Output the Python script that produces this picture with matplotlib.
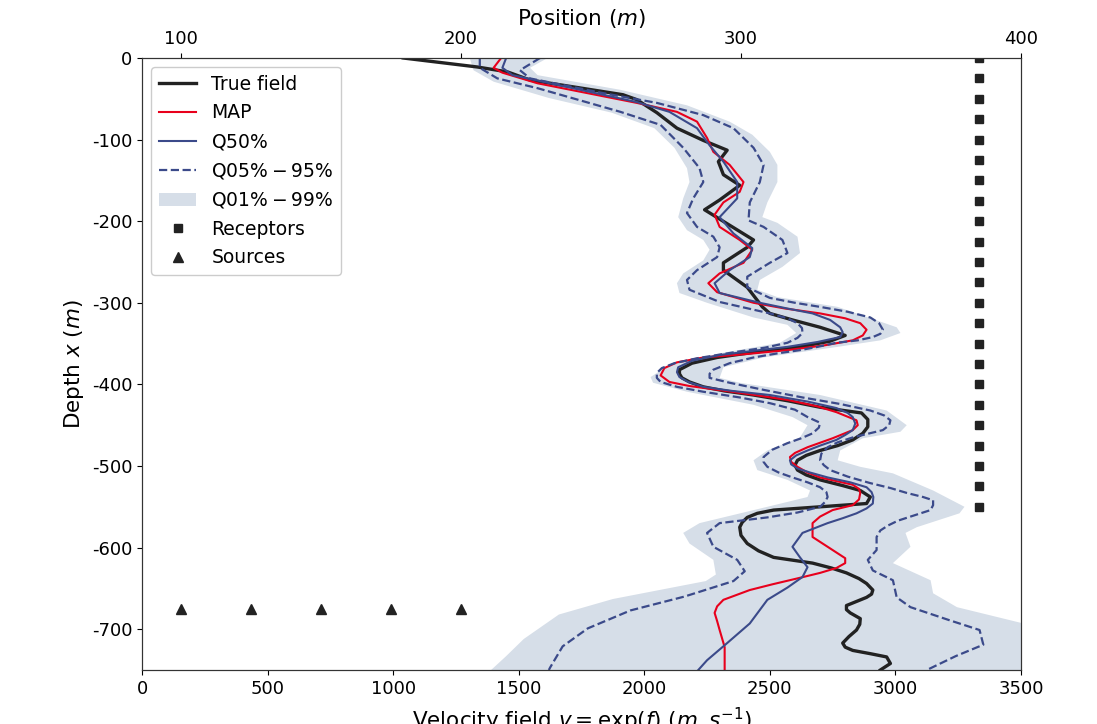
import numpy as np
import matplotlib
matplotlib.use('Agg')
import matplotlib.pyplot as plt

plt.rcParams['axes.unicode_minus'] = False

# (depth m, velocity m/s) pairs
true_field = [(0, 1040), (-11, 1335), (-17, 1455), (-27, 1545), (-45, 1915), (-51, 1970), (-67, 2050), (-86, 2130),
              (-101, 2235), (-113, 2330), (-127, 2295), (-143, 2315), (-156, 2380), (-174, 2300), (-186, 2240),
              (-223, 2435), (-232, 2410), (-251, 2315), (-260, 2315), (-281, 2410), (-297, 2450), (-305, 2470),
              (-313, 2500), (-321, 2590), (-330, 2700), (-340, 2800), (-347, 2740), (-354, 2620), (-360, 2450),
              (-367, 2290), (-374, 2190), (-382, 2140), (-387, 2140), (-392, 2150), (-397, 2180), (-403, 2235),
              (-408, 2320), (-413, 2435), (-420, 2570), (-428, 2700), (-435, 2865), (-443, 2890), (-452, 2890),
              (-460, 2870), (-468, 2830), (-475, 2770), (-481, 2700), (-487, 2645), (-493, 2610), (-499, 2600),
              (-505, 2610), (-511, 2645), (-517, 2700), (-524, 2790), (-530, 2860), (-538, 2900), (-546, 2885),
              (-554, 2515), (-558, 2450), (-563, 2410), (-569, 2390), (-575, 2380), (-585, 2385), (-595, 2410),
              (-604, 2455), (-612, 2515), (-619, 2670), (-625, 2745), (-631, 2805), (-638, 2855), (-644, 2885),
              (-652, 2910), (-657, 2905), (-661, 2885), (-666, 2845), (-671, 2805), (-676, 2805), (-680, 2820),
              (-687, 2860), (-694, 2858), (-701, 2845), (-709, 2815), (-717, 2790), (-722, 2800), (-726, 2830),
              (-730, 2900), (-734, 2965), (-742, 2980), (-750, 2940)]

map_field = [(0, 1430), (-12, 1400), (-18, 1435), (-31, 1575), (-55, 1970), (-66, 2130), (-78, 2210), (-98, 2250),
             (-115, 2275), (-131, 2340), (-152, 2395), (-164, 2380), (-177, 2315), (-192, 2280), (-207, 2300),
             (-223, 2380), (-235, 2430), (-251, 2395), (-264, 2300), (-276, 2255), (-287, 2290), (-300, 2435),
             (-307, 2560), (-313, 2700), (-319, 2800), (-325, 2860), (-333, 2885), (-340, 2870), (-346, 2830),
             (-352, 2720), (-358, 2570), (-363, 2400), (-367, 2235), (-373, 2130), (-380, 2080), (-389, 2065),
             (-397, 2100), (-402, 2180), (-407, 2300), (-413, 2440), (-419, 2570), (-427, 2690), (-434, 2765),
             (-444, 2845), (-450, 2850), (-456, 2830), (-466, 2750), (-477, 2650), (-484, 2600), (-489, 2580),
             (-495, 2585), (-501, 2610), (-508, 2650), (-514, 2700), (-523, 2830), (-528, 2855), (-533, 2860),
             (-541, 2855), (-548, 2830), (-554, 2750), (-562, 2700), (-570, 2670), (-587, 2670), (-597, 2720),
             (-603, 2750), (-613, 2800), (-619, 2800), (-625, 2765), (-631, 2700), (-637, 2620), (-645, 2510),
             (-652, 2420), (-664, 2315), (-672, 2290), (-680, 2280), (-690, 2290), (-701, 2300), (-722, 2320),
             (-750, 2320)]

q50 = [(0, 1450), (-12, 1435), (-21, 1475), (-54, 1970), (-66, 2100), (-86, 2210), (-107, 2260), (-127, 2315),
       (-152, 2370), (-172, 2370), (-195, 2300), (-215, 2355), (-233, 2430), (-244, 2420), (-260, 2340),
       (-276, 2280), (-288, 2300), (-300, 2460), (-307, 2570), (-313, 2670), (-321, 2740), (-330, 2780),
       (-336, 2790), (-342, 2780), (-348, 2690), (-354, 2570), (-359, 2430), (-364, 2300), (-371, 2190),
       (-379, 2135), (-385, 2130), (-391, 2140), (-397, 2175), (-403, 2235), (-408, 2350), (-413, 2500),
       (-421, 2650), (-429, 2765), (-435, 2810), (-440, 2830), (-448, 2840), (-456, 2830), (-462, 2800),
       (-468, 2765), (-475, 2700), (-481, 2650), (-487, 2605), (-493, 2580), (-498, 2585), (-503, 2610),
       (-508, 2660), (-514, 2730), (-520, 2820), (-526, 2885), (-532, 2905), (-538, 2912), (-546, 2910),
       (-552, 2885), (-558, 2845), (-564, 2790), (-570, 2730), (-582, 2630), (-599, 2590), (-612, 2620),
       (-624, 2650), (-636, 2630), (-649, 2570), (-664, 2490), (-693, 2420), (-717, 2330), (-738, 2250),
       (-750, 2215)]

q05 = [(0, 1345), (-12, 1345), (-25, 1415), (-37, 1575), (-66, 1905), (-82, 2065), (-110, 2155), (-135, 2220),
       (-152, 2235), (-172, 2195), (-190, 2170), (-207, 2210), (-219, 2275), (-232, 2300), (-244, 2290),
       (-260, 2210), (-272, 2170), (-284, 2180), (-299, 2300), (-306, 2400), (-313, 2500), (-319, 2570),
       (-325, 2610), (-331, 2628), (-337, 2630), (-343, 2610), (-349, 2570), (-355, 2480), (-360, 2370),
       (-364, 2290), (-368, 2210), (-374, 2120), (-380, 2070), (-386, 2050), (-392, 2050), (-397, 2065),
       (-403, 2130), (-409, 2235), (-416, 2380), (-423, 2500), (-431, 2600), (-440, 2650), (-447, 2700),
       (-453, 2695), (-460, 2670), (-466, 2625), (-472, 2570), (-480, 2510), (-489, 2475), (-495, 2475),
       (-501, 2490), (-508, 2535), (-514, 2590), (-520, 2650), (-526, 2700), (-532, 2725), (-538, 2730),
       (-544, 2720), (-550, 2700), (-557, 2610), (-563, 2490), (-570, 2300), (-582, 2250), (-599, 2275),
       (-615, 2370), (-629, 2400), (-641, 2355), (-660, 2160), (-677, 1945), (-699, 1775), (-721, 1675),
       (-747, 1625), (-750, 1620)]

q95 = [(0, 1585), (-15, 1505), (-25, 1545), (-43, 1835), (-55, 2050), (-70, 2235), (-86, 2355), (-110, 2435),
       (-131, 2475), (-152, 2460), (-177, 2420), (-199, 2415), (-207, 2475), (-223, 2550), (-239, 2570),
       (-251, 2500), (-268, 2410), (-281, 2410), (-294, 2500), (-300, 2600), (-305, 2700), (-311, 2810),
       (-318, 2900), (-325, 2935), (-333, 2950), (-338, 2940), (-342, 2910), (-346, 2850), (-349, 2765),
       (-354, 2690), (-358, 2620), (-362, 2530), (-367, 2435), (-374, 2340), (-382, 2275), (-387, 2260),
       (-392, 2260), (-398, 2340), (-407, 2480), (-416, 2630), (-424, 2780), (-432, 2900), (-438, 2955),
       (-444, 2980), (-450, 2975), (-456, 2950), (-465, 2830), (-471, 2770), (-477, 2730), (-485, 2705),
       (-493, 2700), (-499, 2715), (-505, 2740), (-513, 2810), (-521, 2900), (-527, 2980), (-533, 3045),
       (-538, 3110), (-542, 3150), (-548, 3150), (-554, 3140), (-560, 3080), (-567, 3010), (-573, 2970),
       (-579, 2940), (-587, 2925), (-603, 2925), (-615, 2890), (-628, 2910), (-640, 2990), (-661, 3005),
       (-673, 3060), (-689, 3215), (-701, 3335), (-719, 3350), (-733, 3240), (-750, 3125)]

q01 = [(0, 1305), (-15, 1320), (-29, 1400), (-49, 1620), (-67, 1870), (-86, 2040), (-110, 2120), (-135, 2170),
       (-152, 2180), (-172, 2155), (-195, 2135), (-211, 2170), (-223, 2235), (-235, 2260), (-248, 2235),
       (-264, 2155), (-276, 2130), (-288, 2140), (-300, 2250), (-318, 2435), (-327, 2570), (-337, 2605),
       (-349, 2540), (-362, 2300), (-376, 2100), (-391, 2025), (-398, 2035), (-409, 2170), (-425, 2435),
       (-440, 2590), (-450, 2650), (-465, 2620), (-481, 2490), (-493, 2435), (-505, 2450), (-517, 2570),
       (-530, 2660), (-538, 2650), (-550, 2490), (-570, 2220), (-582, 2155), (-595, 2180), (-615, 2275),
       (-633, 2285), (-641, 2245), (-663, 1875), (-682, 1660), (-712, 1520), (-733, 1450), (-750, 1390)]

q99 = [(0, 1615), (-12, 1545), (-21, 1575), (-39, 1905), (-58, 2170), (-78, 2340), (-94, 2430), (-115, 2500),
       (-131, 2530), (-152, 2530), (-177, 2490), (-195, 2470), (-202, 2530), (-219, 2610), (-239, 2620),
       (-256, 2550), (-272, 2460), (-284, 2450), (-293, 2530), (-305, 2770), (-330, 3005), (-337, 3020),
       (-346, 2940), (-354, 2770), (-367, 2475), (-379, 2315), (-392, 2300), (-398, 2380), (-413, 2700),
       (-432, 2965), (-450, 3045), (-458, 3020), (-466, 2870), (-481, 2780), (-493, 2770), (-501, 2860),
       (-509, 2990), (-530, 3150), (-550, 3275), (-558, 3255), (-575, 3085), (-582, 3040), (-599, 3060),
       (-619, 2990), (-640, 3140), (-656, 3150), (-673, 3245), (-693, 3510), (-713, 3660), (-750, 3740)]

# acquisition geometry (position axis on top)
src_pos = [100, 125, 150, 175, 200]
src_depth = -675
rec_pos = 385
rec_depth = np.arange(0, -551, -25)

blue = '#3b4a8a'
band = '#d6dee8'

true_field = np.array(true_field)
map_field = np.array(map_field)
q50 = np.array(q50)
q05 = np.array(q05)
q95 = np.array(q95)
q01 = np.array(q01)
q99 = np.array(q99)

fig = plt.figure(figsize=(10.97, 7.24), dpi=100)
ax = fig.add_axes([142/1097, 1 - 670/724, 879/1097, 612/724])

band_v = np.concatenate([q01[:, 1], q99[::-1, 1]])
band_d = np.concatenate([q01[:, 0], q99[::-1, 0]])
ax.fill(band_v, band_d, color=band, lw=0, label=r'Q01$\% - 99\%$')
ax.plot(true_field[:, 1], true_field[:, 0], color='#222222', lw=2.4, label='True field')
ax.plot(map_field[:, 1], map_field[:, 0], color='#e8001c', lw=1.5, label='MAP')
ax.plot(q50[:, 1], q50[:, 0], color=blue, lw=1.5, label=r'Q50$\%$')
ax.plot(q05[:, 1], q05[:, 0], color=blue, lw=1.6, ls='--', label=r'Q05$\% - 95\%$')
ax.plot(q95[:, 1], q95[:, 0], color=blue, lw=1.6, ls='--')

ax.set_xlim(0, 3500)
ax.set_ylim(-750, 0)
ax.set_yticks(np.arange(-700, 1, 100))
ax.set_xlabel(r'Velocity field $v = \exp(f)$ $(m.s^{-1})$', fontsize=15.5, labelpad=6)
ax.set_ylabel(r'Depth $x$ ($m$)', fontsize=15.5)
ax.tick_params(labelsize=13)

ax2 = ax.twiny()
ax2.plot(np.full(len(rec_depth), rec_pos), rec_depth, 's', color='#222222', ms=6, ls='none', label='Receptors')
ax2.plot(src_pos, [src_depth] * len(src_pos), '^', color='#222222', ms=6.5, ls='none', label='Sources')
ax2.set_xlim(86.07, 400)
ax2.set_xticks([100, 200, 300, 400])
ax2.set_xlabel(r'Position ($m$)', fontsize=15.5)
ax2.tick_params(labelsize=13)

for a in (ax, ax2):
    for s in a.spines.values():
        s.set_color('#333333')

h1, l1 = ax.get_legend_handles_labels()
h2, l2 = ax2.get_legend_handles_labels()
order = [1, 2, 3, 4, 0]
handles = [h1[i] for i in order] + h2
labels = [l1[i] for i in order] + l2
ax2.legend(handles, labels, loc='upper left', fontsize=13.5, framealpha=1,
           edgecolor='#cccccc', borderaxespad=0.5)

fig.savefig('out.png', dpi=100)
